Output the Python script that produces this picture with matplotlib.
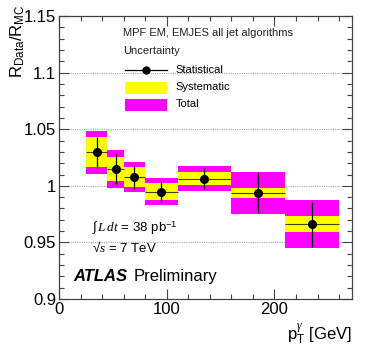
import matplotlib
matplotlib.use("Agg")
import matplotlib.pyplot as plt
from matplotlib.patches import Rectangle
from matplotlib.lines import Line2D
from matplotlib.ticker import MultipleLocator

plt.rcParams["font.family"] = ["Liberation Sans", "DejaVu Sans"]
plt.rcParams["mathtext.fontset"] = "custom"
plt.rcParams["mathtext.rm"] = "Liberation Sans"
plt.rcParams["mathtext.sf"] = "Liberation Sans"
plt.rcParams["mathtext.it"] = "Liberation Serif:italic"

# bins in photon pT [GeV]
pt_low = [25, 45, 60, 80, 110, 160, 210]
pt_high = [45, 60, 80, 110, 160, 210, 260]
pt_center = [35, 52.5, 70, 95, 135, 185, 235]
ratio = [1.0298, 1.0150, 1.0077, 0.9947, 1.0064, 0.9938, 0.9662]
stat_err = [0.0137, 0.0135, 0.0104, 0.0092, 0.0093, 0.0180, 0.0199]
syst_err = [0.0133, 0.0105, 0.0085, 0.0075, 0.0061, 0.0044, 0.0069]
total_err = [0.0190, 0.0170, 0.0134, 0.0119, 0.0112, 0.0186, 0.0212]

YELLOW = "#ffff00"
MAGENTA = "#ff00ff"

fig = plt.figure(figsize=(3.71, 3.56), dpi=100)
ax = fig.add_axes([0.159, 0.160, 0.790, 0.795])

for y in [0.95, 1.0, 1.05, 1.1]:
    ax.axhline(y, color="#aaaaaa", lw=0.8, ls=(0, (1, 1)), zorder=0)

for lo, hi, c, e_tot, e_sys in zip(pt_low, pt_high, ratio, total_err, syst_err):
    ax.add_patch(Rectangle((lo, c - e_tot), hi - lo, 2 * e_tot,
                           facecolor=MAGENTA, edgecolor="none", zorder=1))
    ax.add_patch(Rectangle((lo, c - e_sys), hi - lo, 2 * e_sys,
                           facecolor=YELLOW, edgecolor="none", zorder=2))
    ax.hlines(c, lo, hi, color="black", lw=0.8, alpha=0.75, zorder=3)

ax.errorbar(pt_center, ratio, yerr=stat_err, fmt="o", color="black",
            ms=5.5, lw=0.9, capsize=0, zorder=4)

ax.set_xlim(0, 272)
ax.set_ylim(0.9, 1.15)
ax.xaxis.set_major_locator(MultipleLocator(100))
ax.xaxis.set_minor_locator(MultipleLocator(20))
ax.yaxis.set_minor_locator(MultipleLocator(0.01))
ax.set_yticks([0.9, 0.95, 1.0, 1.05, 1.1, 1.15])
ax.set_yticklabels(["0.9", "0.95", "1", "1.05", "1.1", "1.15"])
ax.tick_params(which="both", direction="in", top=True, right=True,
               labelsize=12, color="#444444", width=0.8)
ax.tick_params(which="major", length=7, pad=2)
ax.tick_params(which="minor", length=3.5)
for sp in ax.spines.values():
    sp.set_color("#444444")
    sp.set_linewidth(0.9)

ax.set_ylabel(r"R$_{\mathrm{Data}}$/R$_{\mathrm{MC}}$", fontsize=12, loc="top")
ax.yaxis.set_label_coords(-0.11, 1.04)
ax.set_xlabel(r"p$_{\mathrm{T}}^{\gamma}$ [GeV]", fontsize=12, loc="right")

tr = ax.transAxes
ax.text(0.218, 0.94, "MPF EM, EMJES all jet algorithms", transform=tr,
        fontsize=8, va="center", color="#222222")
ax.text(0.218, 0.876, "Uncertainty", transform=tr, fontsize=8,
        va="center", color="#222222")
ax.add_line(Line2D([0.225, 0.369], [0.809, 0.809], transform=tr,
                   color="black", lw=0.9))
ax.add_line(Line2D([0.297], [0.809], transform=tr, marker="o", ms=5,
                   color="black"))
ax.text(0.399, 0.809, "Statistical", transform=tr, fontsize=8, va="center")
ax.add_patch(Rectangle((0.225, 0.724), 0.144, 0.043, transform=tr,
                       facecolor=YELLOW, edgecolor="none"))
ax.text(0.399, 0.749, "Systematic", transform=tr, fontsize=8, va="center")
ax.add_patch(Rectangle((0.225, 0.664), 0.144, 0.043, transform=tr,
                       facecolor=MAGENTA, edgecolor="none"))
ax.text(0.399, 0.689, "Total", transform=tr, fontsize=8, va="center")

ax.text(0.113, 0.251, r"$\int\, L\,dt$ = 38 pb$^{-1}$", transform=tr,
        fontsize=9.5, va="center")
ax.text(0.113, 0.180, r"√$s$ = 7 TeV", transform=tr, fontsize=9.5, va="center")
ax.text(0.048, 0.081, "ATLAS", transform=tr, fontsize=12, va="center",
        fontweight="bold", fontstyle="italic")
ax.text(0.253, 0.081, "Preliminary", transform=tr, fontsize=12, va="center")

fig.savefig("out.png", dpi=100)
